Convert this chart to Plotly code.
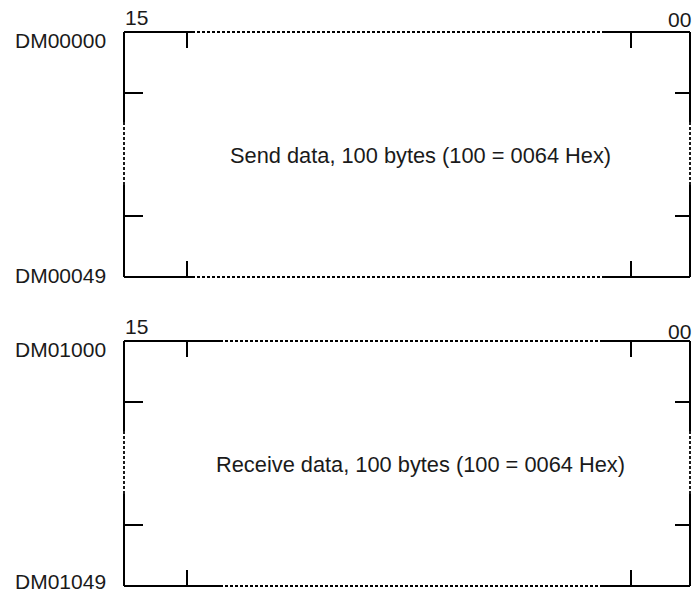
import plotly.graph_objects as go

# memory blocks: start / end word, description, bit labels
start_words = ["DM00000", "DM01000"]
end_words = ["DM00049", "DM01049"]
descriptions = ["Send data, 100 bytes (100 = 0064 Hex)",
                "Receive data, 100 bytes (100 = 0064 Hex)"]
bit_high = ["15", "15"]
bit_low = ["00", "00"]

# layout (pixels)
W, H = 695, 593
left, right = 124, 690
tops = [32, 341]
box_h = 245
tick_x = [187, 631]
tick_in = 61

fig = go.Figure()
shapes = []


def seg(x0, y0, x1, y1, dotted=False):
    shapes.append(dict(type="line", x0=x0, y0=y0, x1=x1, y1=y1,
                       xref="x", yref="y",
                       line=dict(color="black", width=1.8 if dotted else 2,
                                 dash="3px,2px" if dotted else "solid")))


for i, top in enumerate(tops):
    bot = top + box_h
    solid_end = 220 if i else 192
    # top & bottom edges: solid near corners, dotted in the middle
    for y in (top, bot):
        seg(left, y, solid_end, y)
        seg(solid_end, y, 602, y, dotted=True)
        seg(602, y, right, y)
    # left & right edges
    for x in (left, right):
        seg(x, top, x, top + 90)
        seg(x, top + 90, x, bot - 92, dotted=True)
        seg(x, bot - 92, x, bot)
    # ticks along top and bottom
    for tx in tick_x:
        seg(tx, top, tx, top + 16)
        seg(tx, bot, tx, bot - 16)
    # ticks along sides
    for ty in (top + tick_in, bot - tick_in):
        seg(left, ty, left + 19, ty)
        seg(right, ty, right - 15, ty)

    font = dict(family="Liberation Sans, Arial", size=21, color="#1a1a1a")
    fig.add_annotation(x=108, y=top + 8, text=start_words[i], showarrow=False,
                       xanchor="right", yanchor="middle", font=font)
    fig.add_annotation(x=108, y=bot - 2 - 3 * i, text=end_words[i],
                       showarrow=False, xanchor="right", yanchor="middle",
                       font=font)
    fig.add_annotation(x=136, y=top - 15, text=bit_high[i], showarrow=False,
                       xanchor="center", yanchor="middle", font=font)
    fig.add_annotation(x=679, y=top - 13 + (3 if i else 0), text=bit_low[i],
                       showarrow=False, xanchor="center", yanchor="middle",
                       font=font)
    fig.add_annotation(x=420, y=top + 123, text=descriptions[i], showarrow=False,
                       xanchor="center", yanchor="middle",
                       font=dict(family="Liberation Sans, Arial", size=21.8,
                                 color="#1a1a1a"))

fig.update_layout(
    width=W, height=H,
    margin=dict(l=0, r=0, t=0, b=0),
    paper_bgcolor="white", plot_bgcolor="white",
    shapes=shapes,
    showlegend=False,
    xaxis=dict(range=[0, W], visible=False, fixedrange=True),
    yaxis=dict(range=[H, 0], visible=False, fixedrange=True),
)

fig.write_html("out.html", config={"displayModeBar": False},
               post_script="document.body.style.margin='0';"
                           "document.body.style.overflow='hidden';")
